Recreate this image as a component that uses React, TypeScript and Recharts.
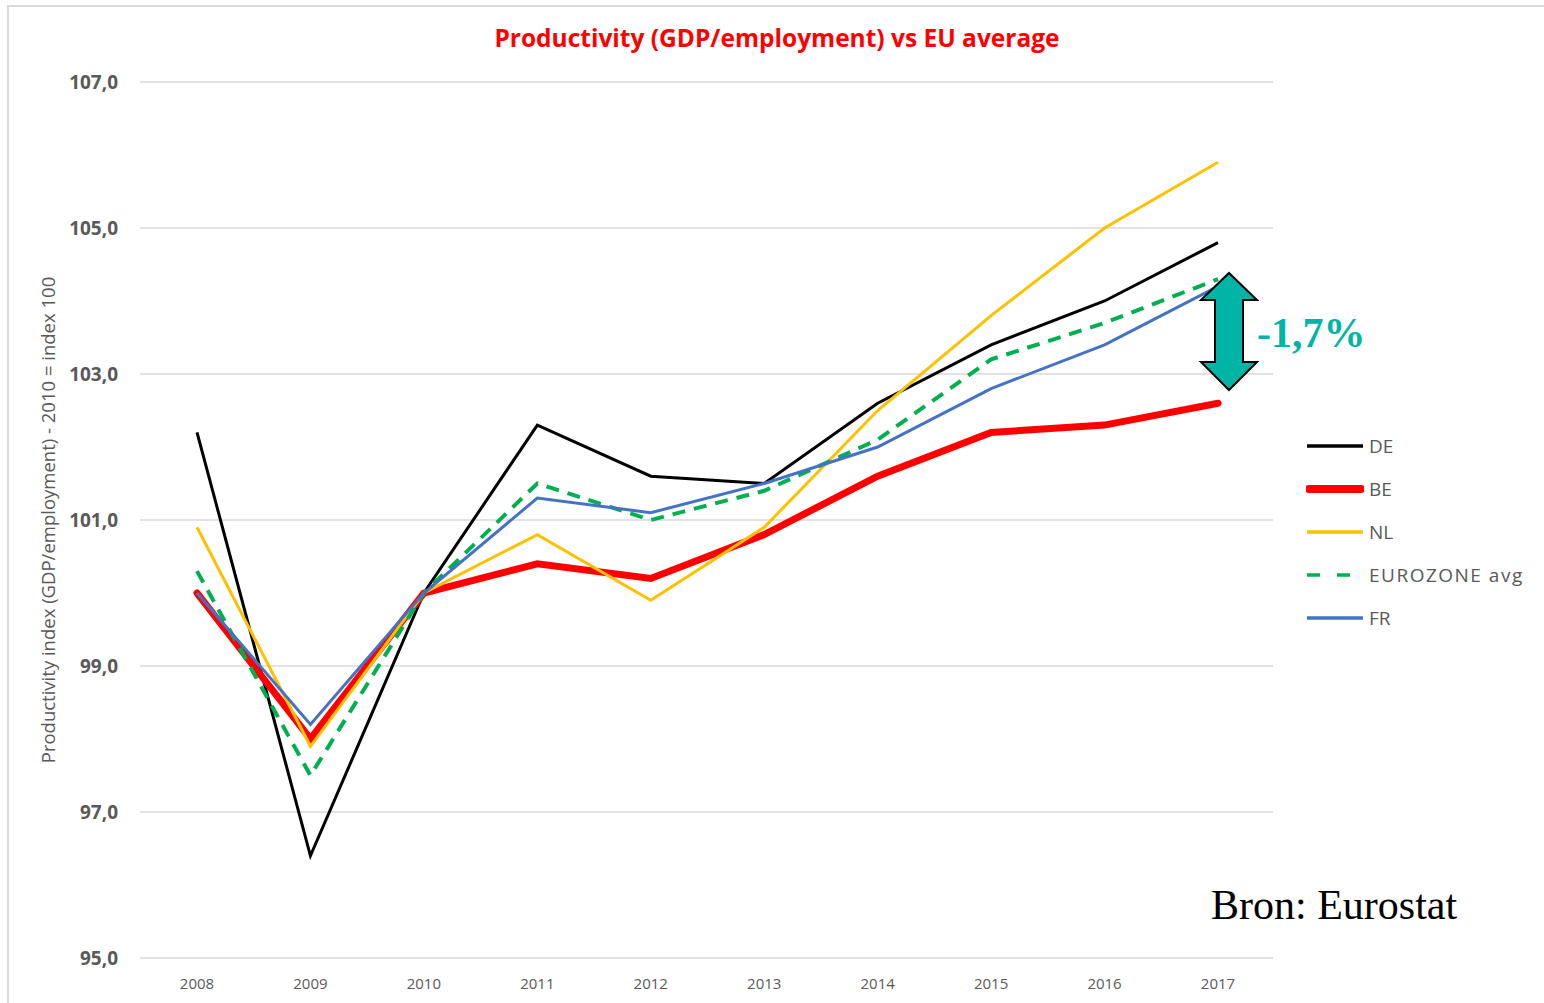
import { LineChart, Line, XAxis, YAxis, CartesianGrid } from "recharts";

const YEARS = ["2008", "2009", "2010", "2011", "2012", "2013", "2014", "2015", "2016", "2017"];
const DE = [102.2, 96.4, 100.0, 102.3, 101.6, 101.5, 102.6, 103.4, 104.0, 104.8];
const BE = [100.0, 98.0, 100.0, 100.4, 100.2, 100.8, 101.6, 102.2, 102.3, 102.6];
const NL = [100.9, 97.9, 100.0, 100.8, 99.9, 100.9, 102.5, 103.8, 105.0, 105.9];
const EUROZONE = [100.3, 97.5, 100.0, 101.5, 101.0, 101.4, 102.1, 103.2, 103.7, 104.3];
const FR = [100.0, 98.2, 100.0, 101.3, 101.1, 101.5, 102.0, 102.8, 103.4, 104.2];
const Y_TICKS = [95, 97, 99, 101, 103, 105, 107];

const SERIES = [
  { key: "DE", color: "#000000", width: 3, dash: undefined as string | undefined },
  { key: "BE", color: "#ff0000", width: 7, dash: undefined },
  { key: "NL", color: "#ffc000", width: 3, dash: undefined },
  { key: "EUROZONE avg", color: "#00b050", width: 4, dash: "13 9" },
  { key: "FR", color: "#4472c4", width: 3, dash: undefined },
];

const data = YEARS.map((year, i) => ({
  year,
  DE: DE[i],
  BE: BE[i],
  NL: NL[i],
  "EUROZONE avg": EUROZONE[i],
  FR: FR[i],
}));

const FONT = "'Open Sans', sans-serif";

function LegendBox() {
  return (
    <div style={{ position: "absolute", left: 1306, top: 424, fontFamily: FONT, fontSize: 19, color: "#595959" }}>
      {SERIES.map((s) => (
        <div key={s.key} style={{ display: "flex", alignItems: "center", height: 43 }}>
          <svg width={58} height={10}>
            <line
              x1={s.width > 4 ? 3 : 1}
              x2={s.width > 4 ? 55 : 57}
              y1={5}
              y2={5}
              stroke={s.color}
              strokeWidth={s.width === 7 ? 8 : 3.5}
              strokeLinecap={s.width > 4 ? "round" : "butt"}
              strokeDasharray={s.dash ? "13 17" : undefined}
            />
          </svg>
          <span style={{ marginLeft: 5, letterSpacing: s.key.startsWith("EURO") ? 1.5 : 0 }}>{s.key}</span>
        </div>
      ))}
    </div>
  );
}

export default function App() {
  return (
    <div style={{ position: "absolute", left: 0, top: 0, width: 1544, height: 1003, background: "#fff", overflow: "hidden" }}>
      <div
        style={{
          position: "absolute",
          left: 7,
          top: 5,
          right: 0,
          bottom: 0,
          borderLeft: "2px solid #d9d9d9",
          borderTop: "2px solid #d9d9d9",
        }}
      />
      <LineChart width={1544} height={1003} data={data} margin={{ top: 82, right: 271, left: 0, bottom: 0 }}>
        <CartesianGrid vertical={false} stroke="#d9d9d9" strokeWidth={1.5} />
        <XAxis
          dataKey="year"
          height={45}
          axisLine={false}
          tickLine={false}
          padding={{ left: 57, right: 55 }}
          tick={{ fontSize: 15, fill: "#595959", fontFamily: FONT }}
          tickMargin={14}
        />
        <YAxis
          width={140}
          domain={[95, 107]}
          ticks={Y_TICKS}
          axisLine={false}
          tickLine={false}
          tickFormatter={(v: number) => v.toFixed(1).replace(".", ",")}
          tick={{ fontSize: 19, fill: "#595959", fontWeight: 700, fontFamily: FONT }}
          tickMargin={16}
          label={{
            value: "Productivity index (GDP/employment) - 2010 = index 100",
            angle: -90,
            position: "insideLeft",
            offset: 0,
            dx: 48,
            style: { fontSize: 18.5, fill: "#595959", fontFamily: FONT, textAnchor: "middle" },
          }}
        />
        {SERIES.map((s) => (
          <Line
            key={s.key}
            type="linear"
            dataKey={s.key}
            stroke={s.color}
            strokeWidth={s.width}
            strokeDasharray={s.dash}
            strokeLinecap={s.width > 4 && !s.dash ? "round" : "butt"}
            dot={false}
            activeDot={false}
            isAnimationActive={false}
          />
        ))}
      </LineChart>
      <LegendBox />
      <div
        style={{
          position: "absolute",
          left: 0,
          width: 1554,
          top: 21,
          textAlign: "center",
          color: "#ff0000",
          fontFamily: FONT,
          fontWeight: 700,
          fontSize: 24.5,
        }}
      >
        Productivity (GDP/employment) vs EU average
      </div>
      <svg style={{ position: "absolute", left: 1195, top: 268 }} width={70} height={130}>
        <polygon
          points="34,5 62,32 48,32 48,94 62,94 34,122 6,94 20,94 20,32 6,32"
          fill="#00b5a5"
          stroke="#000"
          strokeWidth={2}
          strokeLinejoin="miter"
        />
      </svg>
      <div
        style={{
          position: "absolute",
          left: 1257,
          top: 308,
          color: "#00b5a5",
          fontFamily: "'Liberation Serif', 'DejaVu Serif', serif",
          fontWeight: 700,
          fontSize: 42,
          lineHeight: "50px",
        }}
      >
        -1,7%
      </div>
      <div
        style={{
          position: "absolute",
          left: 1211,
          top: 880,
          color: "#000",
          fontFamily: "'Liberation Serif', 'DejaVu Serif', serif",
          fontSize: 42,
          lineHeight: "50px",
        }}
      >
        Bron: Eurostat
      </div>
    </div>
  );
}
